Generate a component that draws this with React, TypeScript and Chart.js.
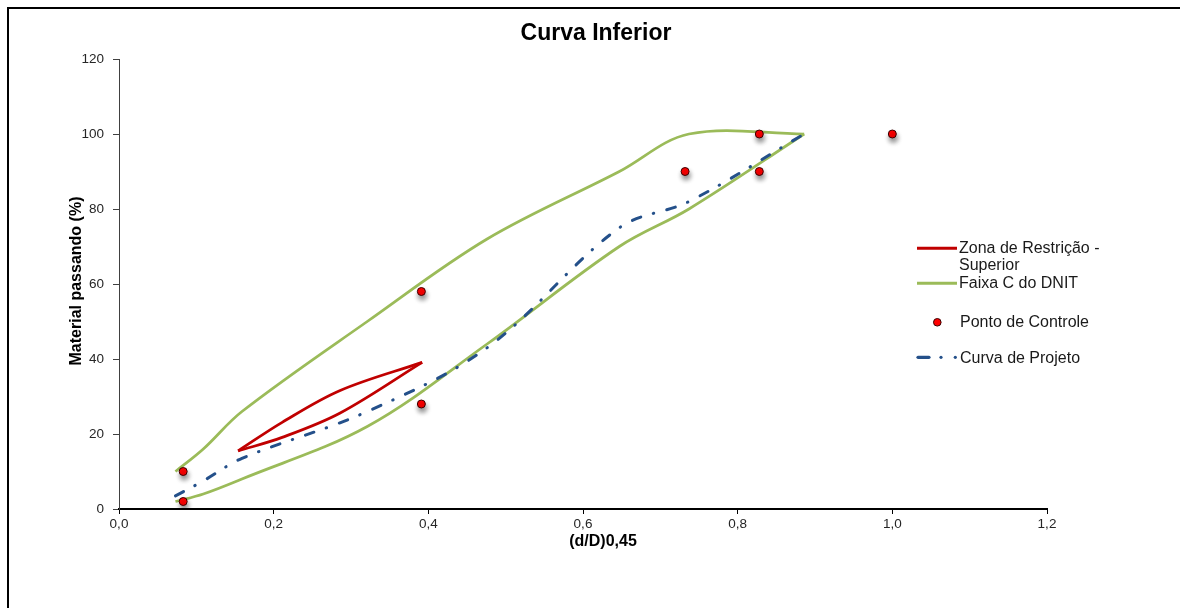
import React, { useEffect, useRef } from "react";
import { Chart, registerables } from "chart.js";

Chart.register(...registerables);

// ---- Data ----
// Faixa C do DNIT and Curva de Projeto share the sieve positions, (d/D)^0.45
const sieveX = [0.073, 0.109, 0.159, 0.321, 0.476, 0.647, 0.737, 0.886];
const faixaSuperior = [10, 16, 26, 50, 72, 90, 100, 100];
const faixaInferior = [2, 4, 8, 22, 44, 70, 80, 100];
const projetoY = [3.5, 7.5, 13.5, 26, 43, 75, 82, 100];

// Zona de Restrição
const zonaX = [0.154, 0.211, 0.286, 0.392];
const zonaSuperior = [15.5, 23.1, 31.6, 39.1];
const zonaInferior = [15.5, 19.1, 25.6, 39.1];

// Pontos de Controle
const controleX = [0.083, 0.083, 0.391, 0.391, 0.732, 0.828, 0.828, 1.0];
const controleY = [2, 10, 28, 58, 90, 90, 100, 100];

// Axes
const xMin = 0;
const xMax = 1.2;
const xStep = 0.2;
const yMin = 0;
const yMax = 120;
const yStep = 20;

const titleText = "Curva Inferior";
const xTitle = "(d/D)0,45";
const yTitle = "Material passando (%)";
const legendZona = ["Zona de Restrição -", "Superior"];
const legendFaixa = "Faixa C do DNIT";
const legendControle = "Ponto de Controle";
const legendProjeto = "Curva de Projeto";

const GREEN = "#9BBB59";
const RED = "#C00000";
const BLUE = "#24508A";
const FONT = "'Liberation Sans', Arial, sans-serif";

const pts = (xs: number[], ys: number[]) => xs.map((x, i) => ({ x, y: ys[i] }));

export default function App() {
  const ref = useRef<HTMLCanvasElement | null>(null);

  useEffect(() => {
    if (!ref.current) return;
    const shadowPlugin = {
      id: "pointShadow",
      beforeDatasetDraw(chart: any, args: any) {
        if (chart.data.datasets[args.index].label === legendControle) {
          const c = chart.ctx;
          c.save();
          c.shadowColor = "rgba(0,0,0,0.45)";
          c.shadowBlur = 5;
          c.shadowOffsetX = 1;
          c.shadowOffsetY = 4;
        }
      },
      afterDatasetDraw(chart: any, args: any) {
        if (chart.data.datasets[args.index].label === legendControle) {
          chart.ctx.restore();
        }
      },
    };

    const lineBase = {
      showLine: true,
      pointRadius: 0,
      pointHoverRadius: 0,
      borderWidth: 2.75,
      tension: 0.35,
      fill: false,
    };

    const chart = new Chart(ref.current, {
      type: "scatter",
      data: {
        datasets: [
          {
            ...lineBase,
            label: legendFaixa,
            data: pts(sieveX, faixaSuperior),
            borderColor: GREEN,
            backgroundColor: GREEN,
            order: 4,
          },
          {
            ...lineBase,
            label: legendFaixa + " (inferior)",
            data: pts(sieveX, faixaInferior),
            borderColor: GREEN,
            backgroundColor: GREEN,
            order: 4,
          },
          {
            ...lineBase,
            label: legendZona.join(" "),
            data: pts(zonaX, zonaSuperior),
            borderColor: RED,
            backgroundColor: RED,
            order: 3,
          },
          {
            ...lineBase,
            label: legendZona.join(" ") + " (inferior)",
            data: pts(zonaX, zonaInferior),
            borderColor: RED,
            backgroundColor: RED,
            order: 3,
          },
          {
            ...lineBase,
            label: legendProjeto,
            data: pts(sieveX, projetoY),
            borderColor: BLUE,
            backgroundColor: BLUE,
            borderWidth: 3,
            borderDash: [9, 13, 0.5, 13.5],
            borderCapStyle: "round",
            order: 2,
          },
          {
            label: legendControle,
            data: pts(controleX, controleY),
            showLine: false,
            pointRadius: 4,
            pointHoverRadius: 4,
            pointBackgroundColor: "#FF0000",
            pointBorderColor: "#3A0000",
            pointBorderWidth: 1,
            order: 0,
          },
        ],
      } as any,
      options: {
        animation: false,
        responsive: true,
        maintainAspectRatio: false,
        layout: { padding: { left: 58, right: 133, top: 59, bottom: 58 } },
        plugins: {
          legend: { display: false },
          title: { display: false },
          tooltip: { enabled: false },
        },
        scales: {
          x: {
            type: "linear",
            min: xMin,
            max: xMax,
            afterFit: (s: any) => {
              s.height = 41;
            },
            ticks: {
              stepSize: xStep,
              padding: 2,
              color: "#262626",
              font: { family: FONT, size: 13.5 },
              callback: (v: any) => Number(v).toFixed(1).replace(".", ","),
            },
            grid: {
              display: true,
              drawOnChartArea: false,
              drawTicks: true,
              tickLength: 5,
              color: "#000",
              lineWidth: 1,
            },
            border: { display: true, color: "#000", width: 2 },
          },
          y: {
            type: "linear",
            min: yMin,
            max: yMax,
            afterFit: (s: any) => {
              s.width = 61;
            },
            ticks: {
              stepSize: yStep,
              padding: 9,
              color: "#262626",
              font: { family: FONT, size: 13.5 },
            },
            grid: {
              display: true,
              drawOnChartArea: false,
              drawTicks: true,
              tickLength: 6,
              color: "#404040",
              lineWidth: 1,
            },
            border: { display: true, color: "#404040", width: 1 },
          },
        },
      } as any,
      plugins: [shadowPlugin],
    });
    return () => chart.destroy();
  }, []);

  const txt: React.CSSProperties = {
    position: "absolute",
    fontFamily: FONT,
    color: "#1a1a1a",
    whiteSpace: "nowrap",
    margin: 0,
  };

  return (
    <div
      style={{
        position: "fixed",
        left: 0,
        top: 0,
        width: 1180,
        height: 608,
        overflow: "hidden",
        background: "#fff",
      }}
    >
      <canvas ref={ref} style={{ position: "absolute", left: 0, top: 0 }} />
      <div
        style={{
          position: "absolute",
          left: 7,
          top: 7,
          width: 1300,
          height: 800,
          borderLeft: "2px solid #000",
          borderTop: "2px solid #000",
          pointerEvents: "none",
        }}
      />
      {/* Title */}
      <div
        style={{
          ...txt,
          left: 396,
          width: 400,
          top: 21,
          textAlign: "center",
          fontSize: 23,
          lineHeight: "23px",
          fontWeight: "bold",
          color: "#000",
        }}
      >
        {titleText}
      </div>
      {/* X axis title */}
      <div
        style={{
          ...txt,
          left: 453,
          width: 300,
          top: 533,
          textAlign: "center",
          fontSize: 16,
          lineHeight: "16px",
          fontWeight: "bold",
          color: "#000",
        }}
      >
        {xTitle}
      </div>
      {/* Y axis title */}
      <div
        style={{
          ...txt,
          left: 76 - 150,
          width: 300,
          top: 281 - 8,
          textAlign: "center",
          fontSize: 16,
          lineHeight: "16px",
          fontWeight: "bold",
          color: "#000",
          transform: "rotate(-90deg)",
        }}
      >
        {yTitle}
      </div>
      {/* Legend */}
      <svg
        width={60}
        height={140}
        style={{ position: "absolute", left: 910, top: 240 }}
      >
        <line x1={7} y1={8.3} x2={47} y2={8.3} stroke={RED} strokeWidth={3} />
        <line x1={7} y1={43.3} x2={47} y2={43.3} stroke={GREEN} strokeWidth={3} />
        <circle cx={27.3} cy={82.3} r={3.8} fill="#FF0000" stroke="#3A0000" strokeWidth={1} />
        <line
          x1={8}
          y1={117.3}
          x2={19}
          y2={117.3}
          stroke={BLUE}
          strokeWidth={3.2}
          strokeLinecap="round"
        />
        <circle cx={31} cy={117.3} r={1.6} fill={BLUE} />
        <circle cx={45.3} cy={117.3} r={1.6} fill={BLUE} />
      </svg>
      <div style={{ ...txt, left: 959, top: 239.3, fontSize: 16, lineHeight: "17px" }}>
        {legendZona[0]}
        <br />
        {legendZona[1]}
      </div>
      <div style={{ ...txt, left: 959, top: 274.3, fontSize: 16, lineHeight: "17px" }}>
        {legendFaixa}
      </div>
      <div style={{ ...txt, left: 960, top: 312.7, fontSize: 16, lineHeight: "17px" }}>
        {legendControle}
      </div>
      <div style={{ ...txt, left: 960, top: 348.7, fontSize: 16, lineHeight: "17px" }}>
        {legendProjeto}
      </div>
    </div>
  );
}
